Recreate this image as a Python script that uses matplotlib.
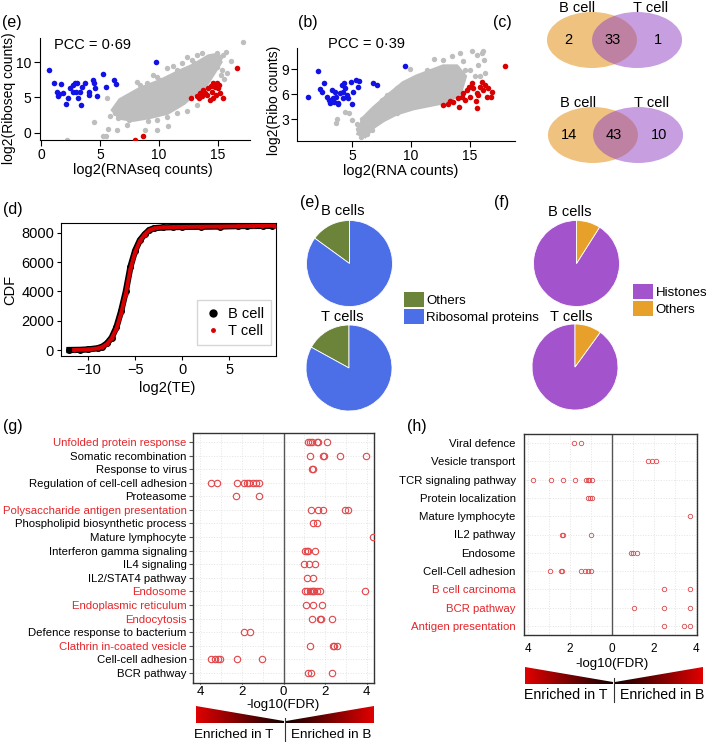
import matplotlib
matplotlib.use('Agg')
import numpy as np
import matplotlib.pyplot as plt
from matplotlib.patches import Ellipse, Polygon, Patch
from matplotlib.lines import Line2D
from matplotlib.colors import LinearSegmentedColormap

plt.rcParams['font.family'] = ['Liberation Sans', 'DejaVu Sans']

# ---------------- data ----------------
# (e) log2 RNAseq vs log2 Riboseq; dense centre kept as an outline
e_core_x = [6.1, 6.7, 8.4, 10.1, 11.8, 12.9, 13.5, 14.2, 14.9, 15.2, 14.6, 13.8, 12.9, 12.1, 10.7, 9.2, 7.8, 6.7]
e_core_y = [3.2, 4.6, 6.2, 7.3, 8.7, 9.5, 10.1, 10.8, 11.0, 10.0, 8.4, 6.3, 5.4, 4.2, 2.8, 2.2, 1.8, 2.1]
e_gray_x = [2.18, 4.52, 5.22, 5.51, 5.71, 5.56, 5.85, 6.27, 6.41, 6.55, 6.69, 7.12, 7.26, 7.49, 8.11, 8.39, 9.52,
            9.80, 10.65, 11.21, 12.35, 12.77, 12.97, 13.62, 14.04, 14.89, 15.17, 15.45, 15.68, 16.10, 15.73, 15.53,
            15.25, 17.09, 8.39, 9.09, 9.80, 10.65, 11.50, 12.35, 13.19, 8.81, 9.80, 10.79, 8.95, 10.08, 11.50,
            11.92, 13.19, 14.89, 15.31]
e_gray_y = [-0.99, 1.45, -0.42, -0.52, 0.56, 4.88, 2.30, 2.77, 0.42, 2.07, 3.94, 3.00, 1.13, 1.83, 7.23, 6.76, 8.17,
            7.93, 9.11, 9.44, 10.75, 10.28, 9.82, 11.24, 10.54, 11.24, 10.75, 10.99, 11.45, 10.14, 8.41, 7.56,
            8.17, 12.77, 2.77, 1.59, 1.83, 2.20, 2.77, 3.00, 3.94, 0.42, 0.42, 0.89, 7.00, 7.46, 8.87,
            9.82, 10.99, 9.34, 8.87]
e_blue_x = [0.68, 1.13, 1.69, 1.38, 1.55, 1.89, 1.47, 2.31, 2.12, 2.46, 2.68, 2.88, 3.08, 2.97, 2.74, 3.31, 3.44,
            3.16, 3.36, 3.73, 4.10, 4.38, 4.49, 4.58, 4.10, 4.77, 5.22, 5.51, 6.19, 6.36, 9.75]
e_blue_y = [8.87, 7.09, 6.90, 5.82, 5.49, 5.59, 5.12, 4.88, 4.08, 6.29, 6.76, 7.09, 7.00, 5.82, 5.82, 5.82, 6.52,
            4.88, 3.94, 7.00, 5.82, 7.46, 7.00, 6.29, 5.35, 5.12, 8.31, 6.52, 7.46, 6.90, 9.96]
e_red_x = [16.64, 12.69, 13.19, 13.47, 13.76, 14.04, 14.18, 14.38, 14.60, 14.75, 14.89, 15.03, 15.17, 15.40,
           14.32, 14.60, 13.62, 13.90, 14.46, 13.42, 14.83, 15.08, 7.97, 8.62]
e_red_y = [9.11, 4.88, 5.12, 5.59, 6.06, 5.35, 6.29, 6.62, 7.00, 6.45, 7.00, 6.29, 5.59, 4.88,
           4.65, 4.88, 5.12, 5.59, 5.82, 4.88, 5.35, 6.76, -0.99, -0.42]

# (b) log2 RNA vs log2 Ribo
b_core_x = [5.55, 5.97, 6.82, 7.95, 9.35, 10.48, 11.60, 12.73, 13.86, 14.56, 14.14, 13.01, 11.60, 10.19, 8.79, 7.66, 6.82, 6.11]
b_core_y = [1.32, 3.12, 4.32, 5.71, 7.32, 8.11, 8.71, 9.31, 9.31, 8.11, 6.12, 5.11, 4.72, 4.32, 3.72, 2.91, 2.11, 1.00]
b_gray_x = [3.72, 3.67, 4.43, 4.79, 4.99, 5.41, 5.55, 5.84, 5.98, 6.26, 5.75, 6.54, 6.68, 7.10, 7.53, 7.95, 8.79,
            9.92, 10.62, 11.60, 11.88, 12.73, 13.44, 14.14, 14.42, 15.13, 15.55, 15.97, 14.98, 15.68, 15.41, 14.56,
            13.86, 11.94, 11.33, 8.23, 8.79, 9.35, 10.48, 11.60, 16.10, 16.17, 16.25, 15.83]
b_gray_y = [3.00, 2.59, 3.91, 3.72, 2.91, 2.43, 1.80, 3.00, 2.11, 1.32, 0.91, 3.40, 1.71, 3.91, 5.32, 5.92, 6.72,
            9.00, 6.72, 7.72, 6.72, 10.12, 10.51, 10.92, 9.91, 11.11, 10.72, 10.92, 8.92, 9.52, 8.11, 8.92,
            9.12, 10.20, 8.92, 4.51, 3.72, 4.72, 4.92, 5.32, 11.10, 10.12, 8.52, 8.11]
b_blue_x = [1.24, 2.09, 2.26, 2.46, 2.65, 2.93, 3.10, 3.16, 3.39, 3.50, 3.67, 3.78, 3.86, 3.30, 4.00, 4.15, 4.34,
            4.28, 4.43, 4.57, 4.70, 4.91, 4.99, 5.08, 5.35, 5.55, 5.63, 6.82, 7.10, 9.49, 4.23, 3.58]
b_blue_y = [5.71, 8.71, 6.60, 6.31, 7.32, 5.71, 5.32, 4.92, 5.52, 5.11, 5.71, 4.92, 4.84, 6.52, 6.12, 7.12, 7.39,
            6.31, 6.72, 5.92, 5.52, 7.51, 4.84, 6.31, 7.72, 6.91, 7.63, 7.32, 7.12, 9.40, 5.52, 6.31]
b_red_x = [12.73, 13.15, 13.57, 14.00, 14.08, 14.28, 14.42, 14.70, 14.92, 15.13, 15.26, 15.55, 15.49, 15.55,
           15.83, 15.97, 16.11, 16.39, 14.98, 14.56, 13.29, 15.68, 17.94, 16.25, 16.53, 16.82, 16.73]
b_red_y = [4.72, 4.84, 5.11, 5.52, 4.44, 5.71, 6.12, 6.52, 6.91, 7.32, 6.72, 6.19, 5.23, 4.32,
           6.91, 7.51, 6.52, 5.71, 5.71, 5.32, 5.23, 5.92, 9.40, 7.12, 6.72, 6.31, 5.71]

# (c) venn counts: B only, shared, T only
venn_top = [2, 33, 1]
venn_bottom = [14, 43, 10]

# (d) CDF of log2(TE)
cdf_b_x = [-12.0, -10.9, -10, -9, -8.5, -8, -7.5, -7, -6.5, -6, -5.5, -5, -4.5, -4, -3.5, -3, -2, -1, 0, 2, 4, 5.9, 6.9, 8.6, 9.6]
cdf_b_y = [0, 10, 40, 120, 230, 450, 850, 1550, 2650, 4000, 5700, 6800, 7500, 7900, 8200, 8320, 8380, 8400, 8410,
           8425, 8440, 8470, 8475, 8480, 8490]
cdf_t_x = [-11.5, -10, -9, -8.5, -8, -7.5, -7, -6.5, -6, -5.5, -5, -4.5, -4, -3.5, -3, -2, -1, 0, 2, 4, 6, 7.5, 8.5, 9.8]
cdf_t_y = [0, 35, 110, 210, 420, 800, 1450, 2500, 3850, 5550, 6700, 7450, 7880, 8180, 8310, 8380, 8400, 8410,
           8425, 8440, 8460, 8475, 8485, 8495]

# (e) pies: Others, Ribosomal proteins ; (f) pies: Histones, Others
pie_e_b = [15, 85]
pie_e_t = [17, 83]
pie_f_b = [91, 9]
pie_f_t = [90, 10]

# (g) GO terms, -log10(FDR) (negative = enriched in T)
g_terms = ['Unfolded protein response', 'Somatic recombination', 'Response to virus',
           'Regulation of cell-cell adhesion', 'Proteasome', 'Polysaccharide antigen presentation',
           'Phospholipid biosynthetic process', 'Mature lymphocyte', 'Interferon gamma signaling',
           'IL4 signaling', 'IL2/STAT4 pathway', 'Endosome', 'Endoplasmic reticulum', 'Endocytosis',
           'Defence response to bacterium', 'Clathrin in-coated vesicle', 'Cell-cell adhesion', 'BCR pathway']
g_red = [1, 0, 0, 0, 0, 1, 0, 0, 0, 0, 0, 1, 1, 1, 0, 1, 0, 0]
g_fdr = [
    [1.20, 1.28, 1.36, 1.60, 1.68, 2.08],
    [1.28, 1.89, 1.95, 2.72, 3.98],
    [1.36, 1.44],
    [-3.51, -3.22, -2.23, -1.90, -1.77, -1.65, -1.49, -1.33, -1.17],
    [-2.29, -1.17],
    [1.31, 1.68, 1.89, 2.96, 3.10],
    [1.41, 1.60],
    [4.30],
    [1.04, 1.12, 1.20, 1.52],
    [1.00, 1.24, 1.52],
    [1.12, 1.41],
    [1.04, 1.15, 1.28, 1.36, 1.41, 1.47, 1.60, 1.76, 3.93],
    [1.08, 1.44, 1.84],
    [1.36, 1.76, 1.81, 2.32],
    [-1.90, -1.61],
    [1.28, 2.37, 2.43, 2.56],
    [-3.51, -3.30, -3.14, -3.06, -2.23, -1.05],
    [1.20, 1.31, 2.32],
]

# (h)
h_terms = ['Viral defence', 'Vesicle transport', 'TCR signaling pathway', 'Protein localization',
           'Mature lymphocyte', 'IL2 pathway', 'Endosome', 'Cell-Cell adhesion', 'B cell carcinoma',
           'BCR pathway', 'Antigen presentation']
h_red = [0, 0, 0, 0, 0, 0, 0, 0, 1, 1, 1]
h_fdr = [
    [-1.81, -1.49],
    [1.73, 1.89, 2.10],
    [-3.79, -2.90, -2.32, -1.76, -1.24, -1.17, -1.08, -0.97],
    [-1.13, -1.05, -0.98],
    [3.71],
    [-2.40, -2.35, -1.02],
    [0.90, 1.02, 1.21],
    [-2.95, -2.44, -2.37, -1.49, -1.29, -1.13, -1.02],
    [2.48, 3.71],
    [1.06, 2.48, 3.71],
    [2.48, 3.43, 3.71],
]

# ---------------- figure ----------------
W, H = 709, 742
fig = plt.figure(figsize=(W / 100, H / 100), dpi=100)


def pax(l, t, r, b):
    return fig.add_axes([l / W, 1 - b / H, (r - l) / W, (b - t) / H])


def ftext(x, y, s, **kw):
    kw.setdefault('ha', 'center'); kw.setdefault('va', 'center')
    fig.text(x / W, 1 - y / H, s, **kw)


GRAY, BLUE, RED = '#BEBEBE', '#1212E6', '#D80000'
TXTRED = '#E4262B'
CIRC = '#E0464A'


def scatter_panel(ax, cx, cy, gx, gy, bx, by, rx, ry):
    ax.add_patch(Polygon(np.column_stack([cx, cy]), closed=True, fc=GRAY, ec=GRAY, lw=3, zorder=1))
    ax.scatter(gx, gy, s=15, c=GRAY, lw=0, zorder=2)
    ax.scatter(bx, by, s=16, c=BLUE, lw=0, zorder=3)
    ax.scatter(rx, ry, s=16, c=RED, lw=0, zorder=3)
    for sp in ['top', 'right']:
        ax.spines[sp].set_visible(False)
    ax.tick_params(labelsize=10, length=4, pad=2)


# (e) scatter
ax1 = pax(40, 38, 250, 140)
scatter_panel(ax1, e_core_x, e_core_y, e_gray_x, e_gray_y, e_blue_x, e_blue_y, e_red_x, e_red_y)
ax1.set_xlim(-0.08, 17.7); ax1.set_ylim(-1.05, 13.4)
ax1.set_xticks([0, 5, 10, 15]); ax1.set_yticks([0, 5, 10])
ftext(12, 23, '(e)', fontsize=11.5)
ftext(54, 45, 'PCC = 0\u00b769', fontsize=10.5, ha='left')
ftext(9, 98, 'log2(Riboseq counts)', fontsize=10, rotation=90)
ftext(143, 170, 'log2(RNAseq counts)', fontsize=10.5)

# (b) scatter
ax2 = pax(297, 48, 515, 141)
scatter_panel(ax2, b_core_x, b_core_y, b_gray_x, b_gray_y, b_blue_x, b_blue_y, b_red_x, b_red_y)
ax2.set_xlim(0.35, 18.8); ax2.set_ylim(0.43, 11.5)
ax2.set_xticks([5, 10, 15]); ax2.set_yticks([3, 6, 9])
ftext(308, 22, '(b)', fontsize=11.5)
ftext(328, 44, 'PCC = 0\u00b739', fontsize=10.5, ha='left')
ftext(274, 100, 'log2(Ribo counts)', fontsize=10, rotation=90)
ftext(401, 171, 'log2(RNA counts)', fontsize=10.5)

# (c) venns
ftext(502, 22, '(c)', fontsize=11.5)


def venn(ax, counts):
    ax.set_xlim(0, 1); ax.set_ylim(0, 1); ax.axis('off')
    ax.add_patch(Ellipse((0.333, 0.5), 0.667, 1.0, fc='#E18900', alpha=0.5, lw=0))
    ax.add_patch(Ellipse((0.667, 0.5), 0.667, 1.0, fc='#9141C3', alpha=0.5, lw=0))
    for xp, n in zip([0.156, 0.489, 0.822], counts):
        ax.text(xp, 0.5, str(n), ha='center', va='center', fontsize=10.5)
    ax.text(0.22, 1.07, 'B cell', ha='center', va='center', fontsize=10.5)
    ax.text(0.765, 1.07, 'T cell', ha='center', va='center', fontsize=10.5)


venn(pax(547, 12, 682, 68), venn_top)
venn(pax(548, 107, 683, 163), venn_bottom)

# (d) CDF
ax_d = pax(61, 223, 276, 356)
ax_d.plot(cdf_b_x, cdf_b_y, '-o', color='black', lw=4.5, ms=4, zorder=2)
ax_d.plot(cdf_t_x, cdf_t_y, '-o', color=RED, lw=2.8, ms=2, zorder=3)
ax_d.set_xlim(-12.9, 10.0); ax_d.set_ylim(-410, 8680)
ax_d.set_xticks([-10, -5, 0, 5]); ax_d.set_yticks([0, 2000, 4000, 6000, 8000])
ax_d.tick_params(labelsize=10.5, length=3, pad=2)
leg_h = [Line2D([], [], marker='o', ls='', color='black', ms=5),
         Line2D([], [], marker='o', ls='', color=RED, ms=2.5)]
ax_d.legend(leg_h, ['B cell', 'T cell'], loc='lower right', bbox_to_anchor=(0.975, 0.083), fontsize=10.5,
            frameon=True, fancybox=False, edgecolor='#CCCCCC', handletextpad=0.4, borderpad=0.45,
            borderaxespad=0, labelspacing=0.25, handlelength=1.3)
ftext(13, 209, '(d)', fontsize=11.5)
ftext(10, 290, 'CDF', fontsize=10.5, rotation=90)
ftext(167, 388, 'log2(TE)', fontsize=10.5)


# (e), (f) pies
def pie(cx, cy, r, vals, cols):
    ax = pax(cx - r, cy - r, cx + r, cy + r)
    ax.pie(vals, colors=cols, startangle=90, counterclock=True, radius=1,
           wedgeprops=dict(linewidth=0.6, edgecolor='white'))
    ax.set_xlim(-1, 1); ax.set_ylim(-1, 1); ax.set_aspect('equal')


GREEN, RBLUE, PURPLE, ORANGE = '#6B843A', '#4C6EE6', '#A354CC', '#E7A12B'
pie(349.5, 263.5, 43, pie_e_b, [GREEN, RBLUE])
pie(349, 368, 43, pie_e_t, [GREEN, RBLUE])
pie(576.5, 263.5, 43, pie_f_b, [PURPLE, ORANGE])
pie(575, 367, 43, pie_f_t, [PURPLE, ORANGE])
ftext(310, 202, '(e)', fontsize=11.5)
ftext(343, 211, 'B cells', fontsize=10.5)
ftext(342, 317, 'T cells', fontsize=10.5)
ftext(502, 202, '(f)', fontsize=11.5)
ftext(570, 212, 'B cells', fontsize=10.5)
ftext(571, 317, 'T cells', fontsize=10.5)
legkw = dict(loc='upper left', frameon=False, fontsize=9.5, borderpad=0, borderaxespad=0,
             handlelength=1.5, handleheight=1.35, handletextpad=0.2, labelspacing=0.2)
fig.legend([Patch(fc=GREEN), Patch(fc=RBLUE)], ['Others', 'Ribosomal proteins'],
           bbox_to_anchor=(404 / W, 1 - 292 / H), **legkw)
fig.legend([Patch(fc=PURPLE), Patch(fc=ORANGE)], ['Histones', 'Others'],
           bbox_to_anchor=(633 / W, 1 - 284 / H), **legkw)


# (g), (h) dot plots
def dot_panel(ax, terms, reds, vals, ms, mew, fs, xlim, ypad):
    for i, row in enumerate(vals):
        ax.plot(row, [i] * len(row), 'o', mfc='none', mec=CIRC, ms=ms, mew=mew, zorder=3)
    ax.set_xlim(*xlim)
    ax.set_ylim(len(terms) - 1 + ypad[1], -ypad[0])
    ax.set_yticks(range(len(terms)))
    ax.set_yticklabels(terms, fontsize=fs)
    for lbl, r in zip(ax.get_yticklabels(), reds):
        lbl.set_color(TXTRED if r else 'black')
    ax.set_xticks([-4, -2, 0, 2, 4])
    ax.set_xticklabels(['4', '2', '0', '2', '4'])
    ax.set_xticks([-3, -1, 1, 3], minor=True)
    ax.grid(which='both', color='#E3E3E3', ls=':', lw=0.7, zorder=0)
    ax.axvline(0, color='#555555', lw=1, zorder=2)
    for sp in ax.spines.values():
        sp.set_color('#333333'); sp.set_linewidth(1)
    ax.tick_params(axis='x', which='minor', length=0)


ax_g = pax(193, 433, 374, 683)
dot_panel(ax_g, g_terms, g_red, g_fdr, 4.6, 0.8, 8.2, (-4.36, 4.36), (0.66, 0.74))
ax_g.tick_params(axis='y', length=3, pad=1.5, color='#555555')
ax_g.tick_params(axis='x', which='major', length=1, pad=1, labelsize=9.5)
ftext(13, 427, '(g)', fontsize=11.5)
ftext(283, 705, '-log10(FDR)', fontsize=9.5)

ax_h = pax(524, 434, 697, 635)
dot_panel(ax_h, h_terms, h_red, h_fdr, 3.2, 0.6, 8.2, (-4.2, 4.05), (0.49, 0.49))
ax_h.tick_params(axis='y', length=0, pad=6)
ax_h.tick_params(axis='x', which='major', length=0, pad=6, labelsize=8.5)
ftext(417, 427, '(h)', fontsize=11.5)
ftext(612, 664, '-log10(FDR)', fontsize=9.5)

# gradient wedges under the dot plots
ov = fig.add_axes([0, 0, 1, 1])
ov.set_xlim(0, W); ov.set_ylim(H, 0); ov.axis('off')
ramp = np.linspace(0, 1, 256).reshape(1, -1)
to_black = LinearSegmentedColormap.from_list('rb', ['#E00000', '#120000'])
to_red = LinearSegmentedColormap.from_list('br', ['#120000', '#E00000'])


def wedge_bar(l, mid, r, top, bot, tip, text_y, text_l, text_r, div_top, div_bot, fs):
    for x0, x1, cm, pts in [(l, mid - 1, to_black, [(l, bot), (l, top), (mid - 1, tip), (mid - 1, bot)]),
                            (mid + 1, r, to_red, [(mid + 1, bot), (mid + 1, tip), (r, top), (r, bot)])]:
        im = ov.imshow(ramp, extent=(x0, x1, bot, top), cmap=cm, aspect='auto', origin='lower')
        poly = Polygon(pts, closed=True, transform=ov.transData)
        im.set_clip_path(poly)
    ov.plot([mid, mid], [div_top, div_bot], color='#333333', lw=0.8)
    ov.text(text_l, text_y, 'Enriched in T', ha='center', va='center', fontsize=fs)
    ov.text(text_r, text_y, 'Enriched in B', ha='center', va='center', fontsize=fs)


wedge_bar(196, 285, 374, 706, 723, 721, 735, 234, 331, 718, 742, 9.7)
wedge_bar(525, 614, 703, 667, 684, 682, 695, 566, 662, 678, 702, 10.2)
ov.set_xlim(0, W); ov.set_ylim(H, 0)

fig.savefig('out.png', dpi=100)
